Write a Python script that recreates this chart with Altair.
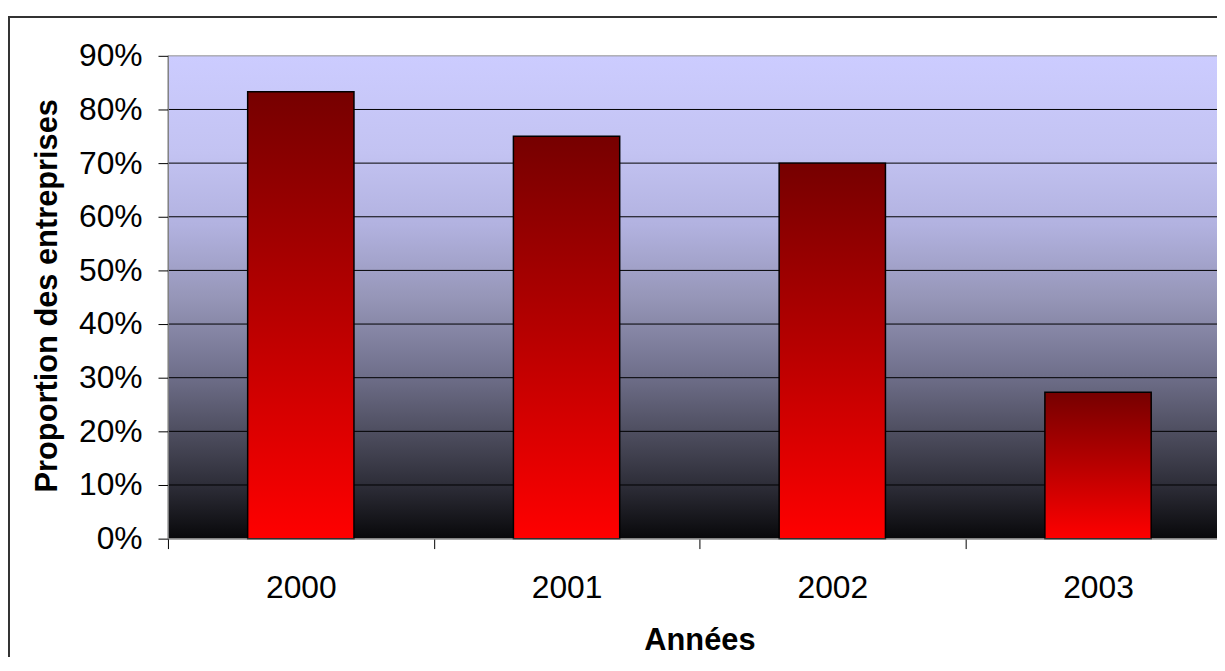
import altair as alt
import pandas as pd

# ---- data ----
years = ["2000", "2001", "2002", "2003"]
shares = [0.833, 0.75, 0.70, 0.273]
y_tick_values = [0, 0.1, 0.2, 0.3, 0.4, 0.5, 0.6, 0.7, 0.8, 0.9]
grid_values = [0.1, 0.2, 0.3, 0.4, 0.5, 0.6, 0.7, 0.8]

bg_stop_offsets = [0.0, 0.2, 0.35, 0.5, 0.65, 0.8, 0.9, 1.0]
bg_stop_colors = ["#ccccff", "#c3c3f2", "#b2b2e0", "#9696b8", "#72728e", "#484858", "#2a2a34", "#08080a"]
bar_stop_offsets = [0.0, 0.5, 1.0]
bar_stop_colors = ["#760000", "#b80000", "#ff0000"]

df = pd.DataFrame({"year": years, "share": shares})
grid_df = pd.DataFrame({"v": grid_values})

FONT = "Liberation Sans"
W = 1070
H = 486

x_scale = alt.Scale(domain=years, paddingInner=0, paddingOuter=0)
y_scale = alt.Scale(domain=[0, 0.9], nice=False, zero=True)

bg_gradient = alt.LinearGradient(
    gradient="linear", x1=0, y1=0, x2=0, y2=1,
    stops=[alt.GradientStop(color=c, offset=o) for o, c in zip(bg_stop_offsets, bg_stop_colors)],
)
bar_gradient = alt.LinearGradient(
    gradient="linear", x1=0, y1=0, x2=0, y2=1,
    stops=[alt.GradientStop(color=c, offset=o) for o, c in zip(bar_stop_offsets, bar_stop_colors)],
)

y_axis = alt.Axis(
    title="Proportion des entreprises", values=y_tick_values, format=".0%",
    tickSize=10, tickColor="black", domainColor="#808080", labelPadding=16,
    labelFontSize=32, labelFont=FONT, labelColor="black", grid=False,
    titleFontSize=31, titleFont=FONT, titleFontWeight="bold", titleColor="black",
    titleAngle=270, titleX=-112, titleY=241, titleAlign="center",
    titleBaseline="alphabetic", zindex=1,
)
x_axis = alt.Axis(
    title="Années", labelAngle=0, tickBand="extent", ticks=True, tickSize=10,
    tickColor="black", domainColor="#808080", labelFontSize=32, labelFont=FONT,
    labelColor="black", labelBaseline="alphabetic", labelPadding=49,
    titleFontSize=31, titleFont=FONT, titleFontWeight="bold", titleColor="black",
    titleY=112, titleBaseline="alphabetic", grid=False, zindex=1,
)

one = alt.Data(values=[{"a": 1}])

frame = alt.Chart(one).mark_rect(fill="transparent", stroke="#333333", strokeWidth=2).encode(
    x=alt.value(-160), x2=alt.value(1300), y=alt.value(-39), y2=alt.value(720)
)

background = alt.Chart(one).mark_rect(fill=bg_gradient, stroke="#909090", strokeWidth=1).encode(
    x=alt.value(0), x2=alt.value(W), y=alt.value(0), y2=alt.value(H)
)

grid = alt.Chart(grid_df).mark_rule(color="black", strokeWidth=1).encode(
    y=alt.Y("v:Q", scale=y_scale, axis=y_axis)
)

bars = alt.Chart(df).mark_bar(
    width=alt.RelativeBandSize(0.4), fill=bar_gradient, stroke="black", strokeWidth=1.5
).encode(
    x=alt.X("year:N", scale=x_scale, sort=years, axis=x_axis),
    y=alt.Y("share:Q", scale=y_scale, axis=y_axis),
)

chart = alt.layer(frame, background, grid, bars).properties(
    width=W, height=H,
    autosize=alt.AutoSizeParams(type="none"),
    padding={"left": 161, "top": 46, "right": -14, "bottom": 117},
    background="white",
).configure_view(stroke=None)

chart.save("out.html", embed_options={"renderer": "svg", "actions": False})
